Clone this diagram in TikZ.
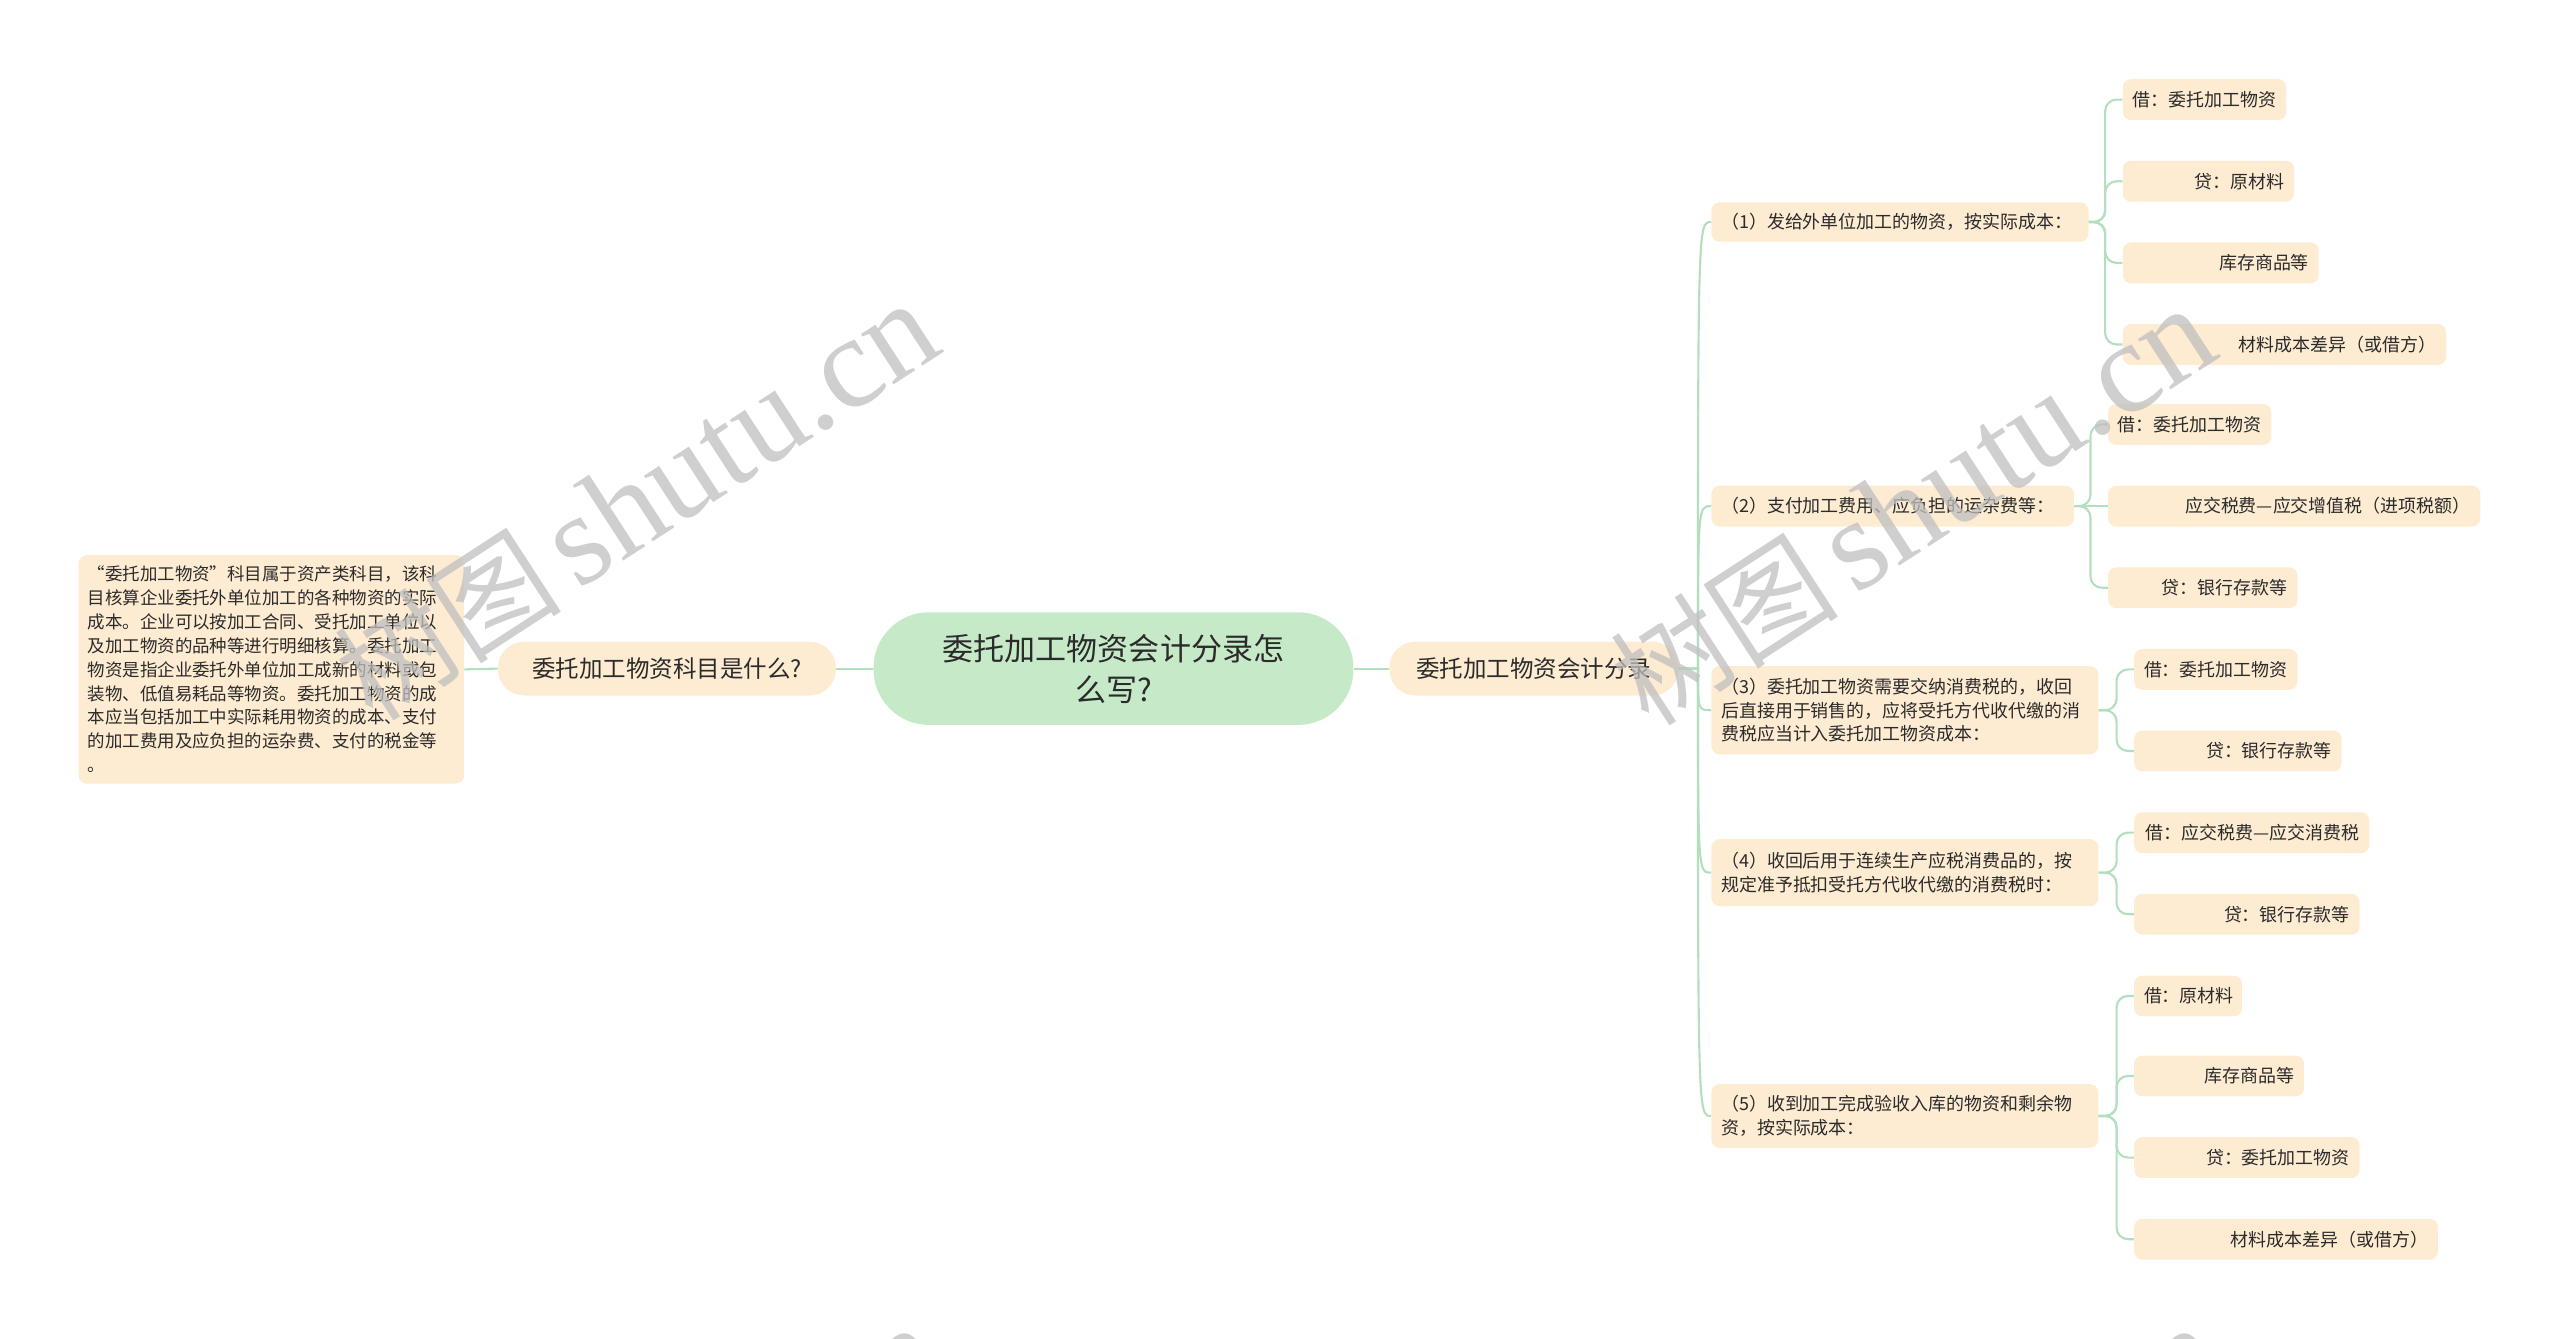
\documentclass[tikz,border=0pt]{standalone}
\usepackage{fontspec}
\setmainfont{Noto Sans CJK SC}
\newfontfamily\wmlatin{Liberation Serif}
\definecolor{peach}{HTML}{FDEBD2}
\definecolor{mint}{HTML}{C6EAC8}
\definecolor{linegreen}{HTML}{B3DFBF}
\definecolor{ink}{HTML}{2B2B2B}
\newcommand{\wmtext}{{\fontsize{70pt}{70pt}\selectfont 树图}\hspace{10pt}{\wmlatin\fontsize{80pt}{80pt}\selectfont shutu.cn}}
\begin{document}
\begin{tikzpicture}[x=1pt,y=-1pt,
  box/.style={fill=peach, text=ink, rounded corners=5pt, inner xsep=6pt, inner ysep=0pt, anchor=west},
  leaf/.style={box, font=\fontsize{11pt}{14.5pt}\selectfont, minimum height=25pt, align=right},
  midbox/.style={box, font=\fontsize{11pt}{14.5pt}\selectfont, align=left},
  topic/.style={fill=peach, text=ink, rounded corners=16pt, font=\fontsize{14.4pt}{18pt}\selectfont, minimum height=33pt, inner sep=0pt},
  rootbox/.style={fill=mint, text=ink, rounded corners=34pt, font=\fontsize{19pt}{25pt}\selectfont, align=center, minimum width=294pt, minimum height=69pt, inner sep=0pt},
  notebox/.style={fill=peach, text=ink, rounded corners=5pt, font=\fontsize{10.7pt}{14.6pt}\selectfont, align=left, inner xsep=5.5pt, inner ysep=0pt, minimum height=140pt, anchor=west},
  conn/.style={draw=linegreen, line width=1.3pt},
  wm/.style={text=black!25, text opacity=0.75, rotate=33, anchor=base east, inner sep=0pt}
]
\useasboundingbox (0,0) rectangle (1568,820);
\clip (0,0) rectangle (1568,820);

% root and topics
\node[rootbox] (root) at (682,409.5) {委托加工物资会计分录怎\\么写?};
\node[topic, minimum width=207pt] (lt) at (408.5,409.5) {委托加工物资科目是什么?};
\node[topic, minimum width=177pt] (rt) at (939.5,409.5) {委托加工物资会计分录};
\node[notebox, text width=225pt] (note) at (48,410) {“委托加工物资”科目属于资产类科目，该科\\目核算企业委托外单位加工的各种物资的实际\\成本。企业可以按加工合同、受托加工单位以\\及加工物资的品种等进行明细核算。委托加工\\物资是指企业委托外单位加工成新的材料或包\\装物、低值易耗品等物资。委托加工物资的成\\本应当包括加工中实际耗用物资的成本、支付\\的加工费用及应负担的运杂费、支付的税金等\\。};

% level 2
\node[midbox, text width=219pt, minimum height=24pt] (n1) at (1048,136) {（1）发给外单位加工的物资，按实际成本：};
\node[midbox, text width=210pt, minimum height=25pt] (n2) at (1048,310) {（2）支付加工费用、应负担的运杂费等：};
\node[midbox, text width=225pt, minimum height=54pt] (n3) at (1048,435) {（3）委托加工物资需要交纳消费税的，收回\\后直接用于销售的，应将受托方代收代缴的消\\费税应当计入委托加工物资成本：};
\node[midbox, text width=225pt, minimum height=41pt] (n4) at (1048,534.5) {（4）收回后用于连续生产应税消费品的，按\\规定准予抵扣受托方代收代缴的消费税时：};
\node[midbox, text width=225pt, minimum height=39pt] (n5) at (1048,683.5) {（5）收到加工完成验收入库的物资和剩余物\\资，按实际成本：};

% leaves
\node[leaf, text width=88pt] (l1a) at (1300,61) {借：委托加工物资};
\node[leaf, text width=93pt] (l1b) at (1300,111) {贷：原材料};
\node[leaf, text width=108pt] (l1c) at (1300,161) {库存商品等};
\node[leaf, text width=186pt] (l1d) at (1300,211) {材料成本差异（或借方）};
\node[leaf, text width=88pt] (l2a) at (1291,260) {借：委托加工物资};
\node[leaf, text width=216pt] (l2b) at (1291,310) {应交税费—应交增值税（进项税额）};
\node[leaf, text width=104pt] (l2c) at (1291,360) {贷：银行存款等};
\node[leaf, text width=88pt] (l3a) at (1307,410) {借：委托加工物资};
\node[leaf, text width=115pt] (l3b) at (1307,460) {贷：银行存款等};
\node[leaf, text width=132pt] (l4a) at (1307,510) {借：应交税费—应交消费税};
\node[leaf, text width=126pt] (l4b) at (1307,560) {贷：银行存款等};
\node[leaf, text width=54pt] (l5a) at (1307,610) {借：原材料};
\node[leaf, text width=92pt] (l5b) at (1307,659) {库存商品等};
\node[leaf, text width=126pt] (l5c) at (1307,709) {贷：委托加工物资};
\node[leaf, text width=174pt] (l5d) at (1307,759) {材料成本差异（或借方）};

% connectors
\draw[conn] (root.west) -- (lt.east);
\draw[conn] (lt.west) -- (note.east);
\draw[conn] (root.east) -- (rt.west);
\coordinate (rj) at (1040,409.5);
\foreach \n in {n1,n2,n3,n4,n5}
  \draw[conn] (rt.east) -- (rj) .. controls (rj |- \n.west) .. (\n.west);
\foreach \l in {l1a,l1b,l1c,l1d}
  \draw[conn, rounded corners=7pt] (n1.east) -- ++(10,0) |- (\l.west);
\foreach \l in {l2a,l2c}
  \draw[conn, rounded corners=7pt] (n2.east) -- ++(10,0) |- (\l.west);
\draw[conn] (n2.east) -- (l2b.west);
\foreach \l in {l3a,l3b}
  \draw[conn, rounded corners=7pt] (n3.east) -- ++(11,0) |- (\l.west);
\foreach \l in {l4a,l4b}
  \draw[conn, rounded corners=7pt] (n4.east) -- ++(11,0) |- (\l.west);
\foreach \l in {l5a,l5b,l5c,l5d}
  \draw[conn, rounded corners=7pt] (n5.east) -- ++(11,0) |- (\l.west);

% watermarks
\node[wm] (wm1) at (580,215) {\wmtext};
\node[wm] (wm2) at (1362,218) {\wmtext};
\node[wm] (wm3) at (582,842) {\wmtext};
\node[wm] (wm4) at (1366,842) {\wmtext};
\end{tikzpicture}
\end{document}
